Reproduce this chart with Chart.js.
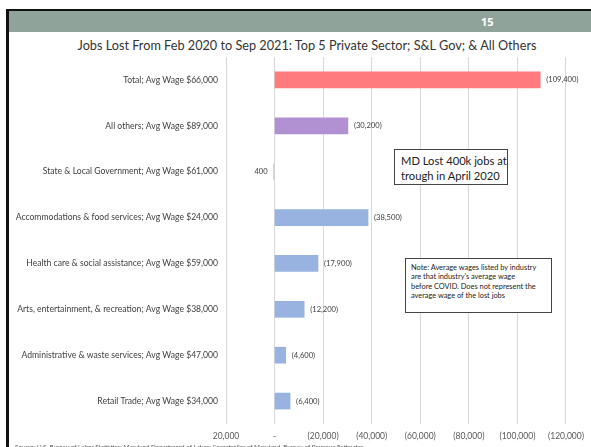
<!DOCTYPE html>
<html lang="en">
<head>
<meta charset="UTF-8">
<title>Jobs Lost From Feb 2020 to Sep 2021</title>
<script src="https://cdn.jsdelivr.net/npm/chart.js"></script>
<style>
  html, body { margin: 0; padding: 0; background: #fff; }
  #slide { position: relative; width: 591px; height: 447px; overflow: hidden; font-family: Lato, "Open Sans", sans-serif; }
  #frameTop { position: absolute; left: 6px; top: 9px; width: 585px; height: 2px; background: #111; }
  #frameLeft { position: absolute; left: 6px; top: 9px; width: 3px; height: 440px; background: #111; z-index: 2; }
  #header { position: absolute; left: 9px; top: 11px; width: 582px; height: 21px; background: #8fa39a; }
  #pageNo { position: absolute; left: 481px; top: 14px; color: #fff; font: bold 11px "Open Sans", sans-serif; }
  #title { position: absolute; left: 9px; width: 596px; top: 37px; text-align: center; color: #333; font-size: 12.7px; }
  #chartBox { position: absolute; left: 0; top: 0; width: 591px; height: 447px; }
  .note { position: absolute; background: #fff; border: 1px solid #444; color: #222; white-space: nowrap; }
  #troughBox { left: 394px; top: 149px; width: 114px; height: 36px; font-size: 11.2px; line-height: 15px; padding: 3px 0 0 6px; box-sizing: border-box; }
  #wageBox { left: 405px; top: 258px; width: 147px; height: 55px; font-size: 7.4px; line-height: 9.4px; padding: 4px 0 0 5px; box-sizing: border-box; }
  #source { position: absolute; left: 15px; top: 443px; font-size: 6.3px; color: #555; white-space: nowrap; }
</style>
</head>
<body>
<div id="slide">
  <div id="frameTop"></div>
  <div id="frameLeft"></div>
  <div id="header"></div>
  <div id="pageNo">15</div>
  <div id="title">Jobs Lost From Feb 2020 to Sep 2021: Top 5 Private Sector; S&amp;L Gov; &amp; All Others</div>
  <div id="chartBox"><canvas id="jobsChart" width="591" height="447"></canvas></div>
  <div class="note" id="troughBox">MD Lost 400k jobs at<br>trough in April 2020</div>
  <div class="note" id="wageBox">Note: Average wages listed by industry<br>are that industry's average wage<br>before COVID. Does not represent the<br>average wage of the lost jobs</div>
  <div id="source">Source: U.S. Bureau of Labor Statistics; Maryland Department of Labor; Comptroller of Maryland, Bureau of Revenue Estimates</div>
</div>

<script>
// Change in jobs, Feb 2020 -> Sep 2021 (negative = jobs lost)
const categories = [
    'Total; Avg Wage $66,000',
    'All others; Avg Wage $89,000',
    'State & Local Government; Avg Wage $61,000',
    'Accommodations & food services; Avg Wage $24,000',
    'Health care & social assistance; Avg Wage $59,000',
    'Arts, entertainment, & recreation; Avg Wage $38,000',
    'Administrative & waste services; Avg Wage $47,000',
    'Retail Trade; Avg Wage $34,000'
];
const jobChange = [-109400, -30200, 400, -38500, -17900, -12200, -4600, -6400];
const barColors = ['#ff7b7e', '#b291d3', '#c8c8c8', '#98b3e0', '#98b3e0', '#98b3e0', '#98b3e0', '#98b3e0'];

const axisMin = -120000;
const axisMax = 20000;
const axisStep = 20000;

// accounting style: 20,000 / - / (20,000)
function accounting(v) {
    if (v === 0) return '-';
    const s = Math.abs(v).toLocaleString('en-US');
    return v < 0 ? '(' + s + ')' : s;
}

// value labels next to the end of each bar
const valueLabels = {
    id: 'valueLabels',
    afterDatasetsDraw(chart) {
        const ctx = chart.ctx;
        const meta = chart.getDatasetMeta(0);
        ctx.save();
        ctx.font = '7.6px Lato, sans-serif';
        ctx.fillStyle = '#404040';
        ctx.textBaseline = 'middle';
        meta.data.forEach((bar, i) => {
            const v = jobChange[i];
            if (v < 0) {
                ctx.textAlign = 'left';
                ctx.fillText(accounting(v), bar.x + 6, bar.y);
            } else {
                ctx.textAlign = 'right';
                ctx.fillText(accounting(v), bar.x - 6, bar.y);
            }
        });
        ctx.restore();
    }
};

const ctx = document.getElementById('jobsChart').getContext('2d');
new Chart(ctx, {
    type: 'bar',
    data: {
        labels: categories,
        datasets: [{
            data: jobChange,
            backgroundColor: barColors,
            barThickness: 16,
            borderWidth: 0
        }]
    },
    options: {
        indexAxis: 'y',
        responsive: false,
        animation: false,
        layout: { padding: { left: 0, right: 22, top: 57, bottom: 0 } },
        plugins: {
            legend: { display: false },
            tooltip: { enabled: false }
        },
        scales: {
            x: {
                reverse: true,
                min: axisMin,
                max: axisMax,
                afterFit(scale) { scale.height = 23; },
                ticks: {
                    stepSize: axisStep,
                    autoSkip: false,
                    maxRotation: 0,
                    padding: 7,
                    color: '#595959',
                    font: { family: 'Lato', size: 8.5 },
                    callback: v => accounting(v)
                },
                grid: { color: '#d9d9d9', drawTicks: false },
                border: { display: false }
            },
            y: {
                afterFit(scale) { scale.width = 226; },
                ticks: {
                    padding: 8,
                    color: '#404040',
                    font: { family: 'Lato', size: 8.6 }
                },
                grid: { display: false, drawTicks: false },
                border: { display: false }
            }
        }
    },
    plugins: [valueLabels]
});
</script>
</body>
</html>
